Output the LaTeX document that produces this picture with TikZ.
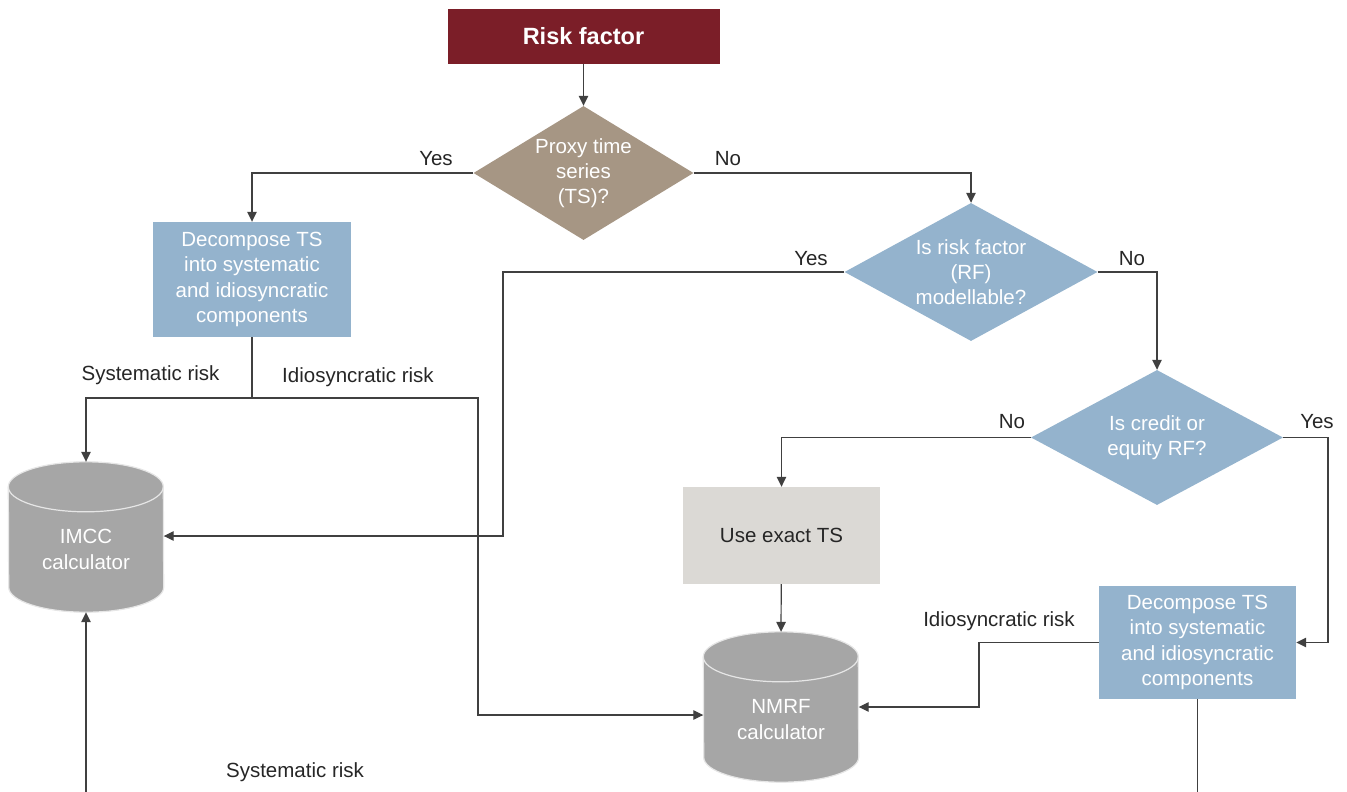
\documentclass[tikz,border=0pt]{standalone}
\usepackage{fontspec}
\setmainfont{Liberation Sans}
\usetikzlibrary{shapes.geometric,arrows.meta,calc}
\definecolor{riskred}{HTML}{7B1E28}
\definecolor{tanfill}{HTML}{A69684}
\definecolor{steel}{HTML}{94B3CD}
\definecolor{lightbox}{HTML}{DBD9D5}
\definecolor{cylgray}{HTML}{A6A6A6}
\definecolor{cyledge}{HTML}{E6E6E6}
\definecolor{linec}{HTML}{404040}
\definecolor{txtc}{HTML}{262626}
\pgfdeclarelayer{background}
\pgfsetlayers{background,main}
\newcommand\mycyl[1]{%
  \begin{pgfonlayer}{background}
  \filldraw[fill=cylgray,draw=cyledge,line width=1.2pt]
    (#1.north west) arc[start angle=180,end angle=0,x radius=77.5pt,y radius=25pt]
    -- ([yshift=25pt]#1.south east)
    arc[start angle=0,end angle=-180,x radius=77.5pt,y radius=25pt] -- cycle;
  \draw[draw=cyledge,line width=1.2pt]
    (#1.north west) arc[start angle=180,end angle=360,x radius=77.5pt,y radius=25pt];
  \end{pgfonlayer}}
\begin{document}
\begin{tikzpicture}[x=1pt,y=-1pt,
  base/.style={font=\fontsize{20.5}{25.3}\selectfont, align=center, inner sep=0pt},
  titlebox/.style={base, fill=riskred, text=white, font=\fontsize{23.5}{28}\selectfont\bfseries,
     minimum width=272pt, minimum height=55pt},
  dia/.style={base, shape=diamond, text=white},
  proc/.style={base, fill=steel, text=white, minimum width=198pt, minimum height=115pt},
  plainbox/.style={base, fill=lightbox, text=txtc, minimum width=197pt, minimum height=97pt},
  cyl/.style={base, text=white, minimum width=155pt, minimum height=125pt},
  lbl/.style={base, text=txtc},
  arr/.style={draw=linec, line width=1.2pt, -{Triangle[length=10pt,width=9.5pt]}},
  ln/.style={draw=linec, line width=1.2pt}]
\useasboundingbox (0,0) rectangle (1347,792);
\clip (0,0) rectangle (1347,792);

% nodes
\node[titlebox] (rf) at (583.5,36.5) {Risk factor};
\node[dia, fill=tanfill, minimum width=220pt, minimum height=134pt, aspect=1.64] (q1) at (583.5,173) {Proxy time\\series\\(TS)?};
\node[dia, fill=steel, minimum width=253pt, minimum height=138pt, aspect=1.83] (q2) at (971,272) {Is risk factor\\(RF)\\modellable?};
\node[dia, fill=steel, minimum width=252pt, minimum height=135pt, aspect=1.87] (q3) at (1157,437.5) {Is credit or\\equity RF?};
\node[proc] (d1) at (252,279.5) {Decompose TS\\into systematic\\and idiosyncratic\\components};
\node[proc, minimum width=197pt, minimum height=113pt] (d2) at (1197.5,642.5) {Decompose TS\\into systematic\\and idiosyncratic\\components};
\node[plainbox] (ex) at (781.5,535.5) {Use exact TS};
\node[cyl] (imcc) at (86,549.5) {IMCC\\calculator};
\node[cyl] (nmrf) at (781,719.5) {NMRF\\calculator};
\mycyl{imcc}
\mycyl{nmrf}

% labels
\node[lbl] (l1) at (436,158.5) {Yes};
\node[lbl] (l2) at (728,158.5) {No};
\node[lbl] (l3) at (811,258.5) {Yes};
\node[lbl] (l4) at (1132,258.5) {No};
\node[lbl] (l5) at (1012,421.5) {No};
\node[lbl] (l6) at (1317,421.5) {Yes};
\node[lbl] (l7) at (150.5,375.5) {Systematic risk};
\node[lbl] (l8) at (358,377.5) {Idiosyncratic risk};
\node[lbl] (l9) at (999,621.5) {Idiosyncratic risk};
\node[lbl] (l10) at (295,772.5) {Systematic risk};

% bend coordinates
\coordinate (j1) at (252,398);
\coordinate (k1) at (503,536);
\coordinate (k2) at (478,715);
\coordinate (k3) at (979,707);
\coordinate (k4) at (1328,642.5);
\coordinate (b1) at (1197.5,840);

% connectors
\draw[arr] (rf) -- (q1);
\draw[arr] (q1.west) -| (d1.north);
\draw[arr] (q1.east) -| (q2.north);
\draw[arr] (q2.west) -| (k1) -- (k1 -| imcc.east);
\draw[arr] (q2.east) -| (q3.north);
\draw[arr] (q3.west) -| (ex.north);
\draw[arr] (q3.east) -| (k4) -- (d2.east);
\draw[arr] (ex) -- ([yshift=25pt]nmrf.north);
\draw[ln] (d1.south) -- (j1);
\draw[arr] (j1) -| ([yshift=25pt]imcc.north);
\draw[arr] (j1) -| (k2) -- (k2 -| nmrf.west);
\draw[arr] (d2.west) -| (k3) -- (k3 -| nmrf.east);
\draw[arr] (d2.south) -- (b1) -| (imcc.south);
\end{tikzpicture}
\end{document}
